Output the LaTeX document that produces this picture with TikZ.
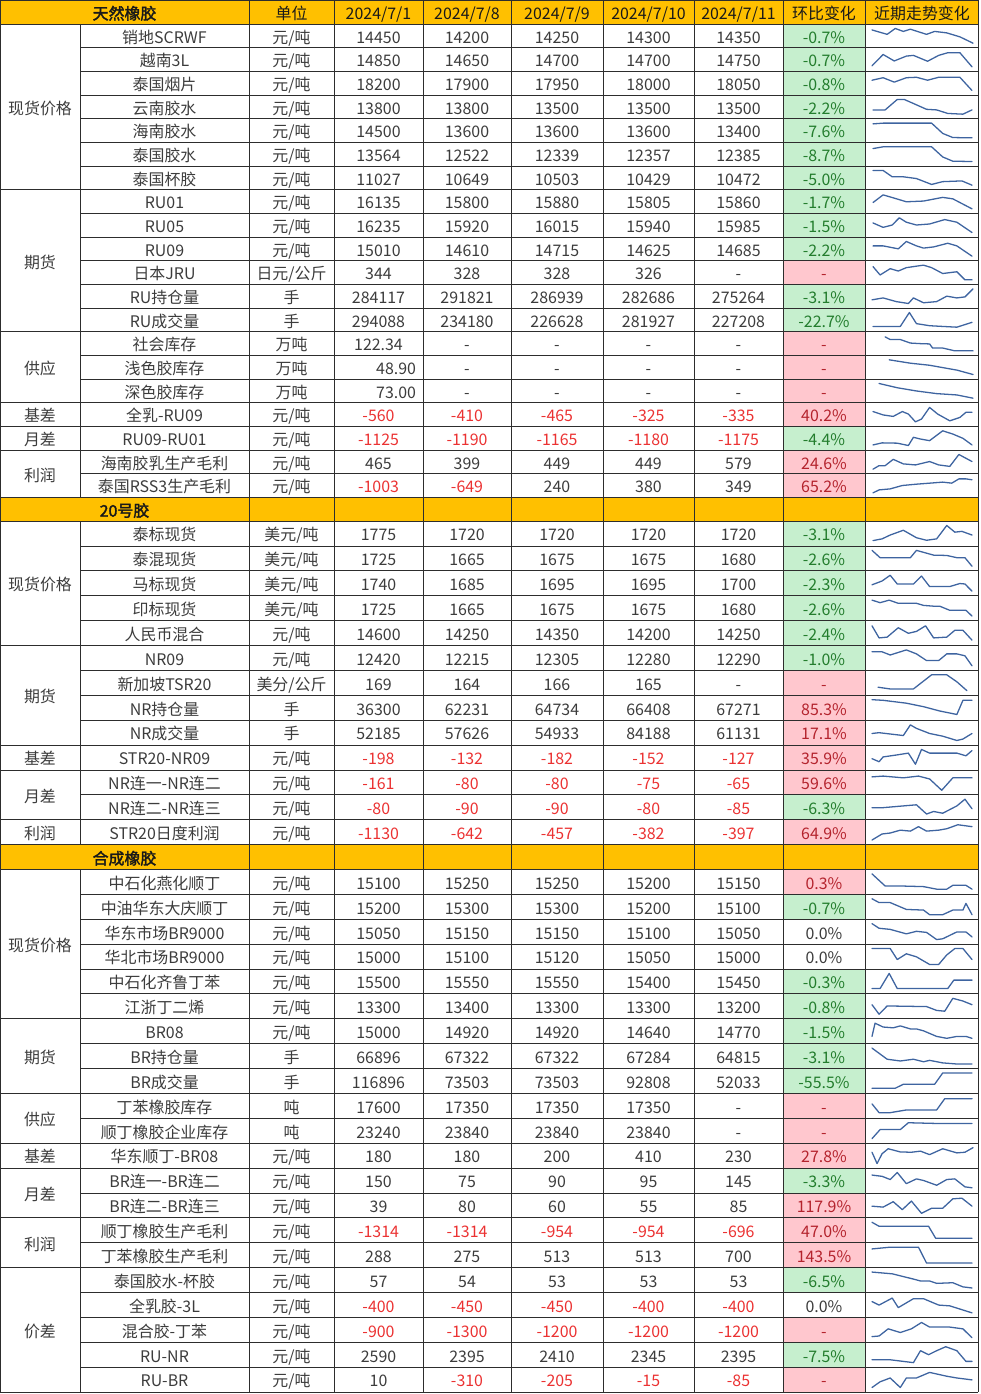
\documentclass[tikz,border=0pt]{standalone}
\usepackage{fontspec}
\setmainfont{Noto Sans CJK SC}[AutoFakeBold=2]
\usepackage{xcolor}
\usepackage{tikz}
\usetikzlibrary{positioning}
\definecolor{headbg}{RGB}{255,192,0}
\definecolor{pinkbg}{RGB}{255,199,206}
\definecolor{pinktx}{RGB}{180,35,45}
\definecolor{greenbg}{RGB}{198,239,206}
\definecolor{greentx}{RGB}{35,125,45}
\definecolor{negred}{RGB}{235,50,50}
\definecolor{celltx}{RGB}{60,60,60}
\definecolor{sparkblue}{RGB}{62,100,160}
\definecolor{gridline}{RGB}{45,45,45}

\newcommand\rv[1]{\textcolor{negred}{#1}}
\newcommand\rj[1]{\hspace*{30pt}#1}
% row geometry (pixels)
\newcommand\getrow[1]{%
  \ifnum#1<22
    \pgfmathsetmacro\yh{23.667}\pgfmathsetmacro\yt{24+(#1-1)*23.667}%
  \else
    \pgfmathsetmacro\yh{24.886}\pgfmathsetmacro\yt{521+(#1-22)*24.886}%
  \fi
  \pgfmathsetmacro\yb{\yt+\yh}\pgfmathsetmacro\yc{\yt+\yh/2}%
  \pgfmathsetmacro\sy{(\yh-9)*0.003}}
\newcommand\spark[2]{\getrow{#1}%
  \begin{scope}[shift={(872,\yb-4.5)}, x=0.0303cm, y=\sy cm]
    \draw[spark] plot coordinates {#2};
  \end{scope}}

\begin{document}
\begin{tikzpicture}[x=0.03cm, y=-0.03cm,
    every node/.style={font=\fontsize{13.6}{16}\selectfont, inner sep=0pt, text height=12.6pt, text depth=0pt},
    txtcell/.style={text=celltx},
    headtx/.style={text=black!90},
    chg/.style={minimum width=2.46cm},
    chgpos/.style={fill=pinkbg, text=pinktx},
    chgneg/.style={fill=greenbg, text=greentx},
    chgnil/.style={text=celltx},
    gridln/.style={draw=gridline, line width=0.6pt},
    spark/.style={draw=sparkblue, line width=1.1pt, line join=round, line cap=round}
]
\useasboundingbox (0,0) rectangle (981,1394);

% Header rows
\fill[headbg] (0,0) rectangle (978,24);
\foreach \rw in {21,35} {\getrow{\rw} \fill[headbg] (0,\yt) rectangle (978,\yb);}
\node[headtx] (sec1) at (124.5,12) {\textbf{天然橡胶}};
\node[headtx] (hunit) at (291.5,12) {单位};
\foreach \x/\d [count=\k] in {378.5/{2024/7/1}, 467/{2024/7/8}, 557/{2024/7/9}, 648.5/{2024/7/10}, 738.5/{2024/7/11}}
  \node[headtx] (hd\k) at (\x,12) {\d};
\node[headtx] (hchg) at (824,12) {环比变化};
\node[headtx] (htrend) at (922,12) {近期走势变化};
\getrow{21}
\node[headtx] (sec2) at (124.5,\yc) {\textbf{20号胶}};
\getrow{35}
\node[headtx] (sec3) at (124.5,\yc) {\textbf{合成橡胶}};

% Rows
\foreach \rw/\nm/\un/\va/\vb/\vc/\vd/\ve/\ch/\cs in {
  1/销地SCRWF/{元/吨}/14450/14200/14250/14300/14350/-0.7\%/chgneg,
  2/越南3L/{元/吨}/14850/14650/14700/14700/14750/-0.7\%/chgneg,
  3/泰国烟片/{元/吨}/18200/17900/17950/18000/18050/-0.8\%/chgneg,
  4/云南胶水/{元/吨}/13800/13800/13500/13500/13500/-2.2\%/chgneg,
  5/海南胶水/{元/吨}/14500/13600/13600/13600/13400/-7.6\%/chgneg,
  6/泰国胶水/{元/吨}/13564/12522/12339/12357/12385/-8.7\%/chgneg,
  7/泰国杯胶/{元/吨}/11027/10649/10503/10429/10472/-5.0\%/chgneg,
  8/RU01/{元/吨}/16135/15800/15880/15805/15860/-1.7\%/chgneg,
  9/RU05/{元/吨}/16235/15920/16015/15940/15985/-1.5\%/chgneg,
  10/RU09/{元/吨}/15010/14610/14715/14625/14685/-2.2\%/chgneg,
  11/日本JRU/{日元/公斤}/344/328/328/326/-/-/chgpos,
  12/RU持仓量/手/284117/291821/286939/282686/275264/-3.1\%/chgneg,
  13/RU成交量/手/294088/234180/226628/281927/227208/-22.7\%/chgneg,
  14/社会库存/万吨/122.34/-/-/-/-/-/chgpos,
  15/浅色胶库存/万吨/\rj{48.90}/-/-/-/-/-/chgpos,
  16/深色胶库存/万吨/\rj{73.00}/-/-/-/-/-/chgpos,
  17/全乳-RU09/{元/吨}/\rv{-560}/\rv{-410}/\rv{-465}/\rv{-325}/\rv{-335}/40.2\%/chgpos,
  18/RU09-RU01/{元/吨}/\rv{-1125}/\rv{-1190}/\rv{-1165}/\rv{-1180}/\rv{-1175}/-4.4\%/chgneg,
  19/海南胶乳生产毛利/{元/吨}/465/399/449/449/579/24.6\%/chgpos,
  20/泰国RSS3生产毛利/{元/吨}/\rv{-1003}/\rv{-649}/240/380/349/65.2\%/chgpos,
  22/泰标现货/{美元/吨}/1775/1720/1720/1720/1720/-3.1\%/chgneg,
  23/泰混现货/{美元/吨}/1725/1665/1675/1675/1680/-2.6\%/chgneg,
  24/马标现货/{美元/吨}/1740/1685/1695/1695/1700/-2.3\%/chgneg,
  25/印标现货/{美元/吨}/1725/1665/1675/1675/1680/-2.6\%/chgneg,
  26/人民币混合/{元/吨}/14600/14250/14350/14200/14250/-2.4\%/chgneg,
  27/NR09/{元/吨}/12420/12215/12305/12280/12290/-1.0\%/chgneg,
  28/新加坡TSR20/{美分/公斤}/169/164/166/165/-/-/chgpos,
  29/NR持仓量/手/36300/62231/64734/66408/67271/85.3\%/chgpos,
  30/NR成交量/手/52185/57626/54933/84188/61131/17.1\%/chgpos,
  31/STR20-NR09/{元/吨}/\rv{-198}/\rv{-132}/\rv{-182}/\rv{-152}/\rv{-127}/35.9\%/chgpos,
  32/NR连一-NR连二/{元/吨}/\rv{-161}/\rv{-80}/\rv{-80}/\rv{-75}/\rv{-65}/59.6\%/chgpos,
  33/NR连二-NR连三/{元/吨}/\rv{-80}/\rv{-90}/\rv{-90}/\rv{-80}/\rv{-85}/-6.3\%/chgneg,
  34/STR20日度利润/{元/吨}/\rv{-1130}/\rv{-642}/\rv{-457}/\rv{-382}/\rv{-397}/64.9\%/chgpos,
  36/中石化燕化顺丁/{元/吨}/15100/15250/15250/15200/15150/0.3\%/chgpos,
  37/中油华东大庆顺丁/{元/吨}/15200/15300/15300/15200/15100/-0.7\%/chgneg,
  38/华东市场BR9000/{元/吨}/15050/15150/15150/15100/15050/0.0\%/chgnil,
  39/华北市场BR9000/{元/吨}/15000/15100/15120/15050/15000/0.0\%/chgnil,
  40/中石化齐鲁丁苯/{元/吨}/15500/15550/15550/15400/15450/-0.3\%/chgneg,
  41/江浙丁二烯/{元/吨}/13300/13400/13300/13300/13200/-0.8\%/chgneg,
  42/BR08/{元/吨}/15000/14920/14920/14640/14770/-1.5\%/chgneg,
  43/BR持仓量/手/66896/67322/67322/67284/64815/-3.1\%/chgneg,
  44/BR成交量/手/116896/73503/73503/92808/52033/-55.5\%/chgneg,
  45/丁苯橡胶库存/吨/17600/17350/17350/17350/-/-/chgpos,
  46/顺丁橡胶企业库存/吨/23240/23840/23840/23840/-/-/chgpos,
  47/华东顺丁-BR08/{元/吨}/180/180/200/410/230/27.8\%/chgpos,
  48/BR连一-BR连二/{元/吨}/150/75/90/95/145/-3.3\%/chgneg,
  49/BR连二-BR连三/{元/吨}/39/80/60/55/85/117.9\%/chgpos,
  50/顺丁橡胶生产毛利/{元/吨}/\rv{-1314}/\rv{-1314}/\rv{-954}/\rv{-954}/\rv{-696}/47.0\%/chgpos,
  51/丁苯橡胶生产毛利/{元/吨}/288/275/513/513/700/143.5\%/chgpos,
  52/泰国胶水-杯胶/{元/吨}/57/54/53/53/53/-6.5\%/chgneg,
  53/全乳胶-3L/{元/吨}/\rv{-400}/\rv{-450}/\rv{-450}/\rv{-400}/\rv{-400}/0.0\%/chgnil,
  54/混合胶-丁苯/{元/吨}/\rv{-900}/\rv{-1300}/\rv{-1200}/\rv{-1200}/\rv{-1200}/-/chgpos,
  55/RU-NR/{元/吨}/2590/2395/2410/2345/2395/-7.5\%/chgneg,
  56/RU-BR/{元/吨}/10/\rv{-310}/\rv{-205}/\rv{-15}/\rv{-85}/-/chgpos}{
  \getrow{\rw}
  \node[txtcell] (n\rw) at (164.5,\yc) {\nm};
  \node[txtcell] (u\rw) at (291.5,\yc) {\un};
  \node[txtcell] (a\rw) at (378.5,\yc) {\va};
  \node[txtcell] (b\rw) at (467,\yc) {\vb};
  \node[txtcell] (c\rw) at (557,\yc) {\vc};
  \node[txtcell] (d\rw) at (648.5,\yc) {\vd};
  \node[txtcell] (e\rw) at (738.5,\yc) {\ve};
  \node[chg, \cs, minimum height=\yh*0.03cm] (p\rw) at (824,\yc) {\ch};
}

% Categories
\foreach \a/\b/\t [count=\k] in {1/7/现货价格, 8/13/期货, 14/16/供应, 17/17/基差, 18/18/月差, 19/20/利润,
    22/26/现货价格, 27/30/期货, 31/31/基差, 32/33/月差, 34/34/利润,
    36/41/现货价格, 42/44/期货, 45/46/供应, 47/47/基差, 48/49/月差, 50/51/利润, 52/56/价差}{
  \getrow{\b}\let\ybot\yb
  \getrow{\a}
  \draw[gridln] (0,\yt) rectangle (80,\ybot);
  \node[txtcell] (cat\k) at (40,{(\yt+\ybot)/2}) {\t};
}

% Grid
\draw[gridln] (0,0) -- (978,0);
\foreach \rw in {1,...,57} {\getrow{\rw} \draw[gridln] (80,\yt) -- (978,\yt);}
\foreach \x in {0,249,334,423,511,603,694,783,865,978} \draw[gridln] (\x,0) -- (\x,1392);

% Sparklines
\spark{1}{(0,9) (15,6) (23,10) (31,8) (38,9.5) (54,6) (62,8) (74,7) (87,4.3) (100,0)}
\spark{2}{(0,0.7) (11,8.4) (22,4) (34,7.3) (41,7.8) (55,3.8) (66,7.8) (75,9.6) (87,9.6) (99,0)}
\spark{3}{(0,7) (11,8.7) (22,5.7) (34,8.7) (44,9) (55,7) (66,9) (87,9) (99,0)}
\spark{4}{(1,2.9) (13,2.9) (25,10) (32,10) (54,3.3) (64,2.9) (75,0.5) (90,0) (99,2.9)}
\spark{5}{(1,9.5) (11,10) (59,10) (70,3) (80,0.2) (99,0)}
\spark{6}{(1,8.8) (11,10) (59,10) (70,3.1) (80,0.2) (99,0)}
\spark{7}{(1,10) (11,10) (20,5.7) (31,5.7) (44,4.5) (59,0.5) (70,2.4) (89,2.9) (99,0)}
\spark{8}{(1,4.3) (11,9.5) (21,7.5) (34,4.8) (51,5.3) (70,7.8) (80,6.8) (99,0)}
\spark{9}{(1,6.5) (11,3.5) (20,5.1) (27,10) (34,7) (44,5.1) (57,5.8) (72,8.8) (84,7) (99,0)}
\spark{10}{(1,7) (11,7) (26,5) (34,10) (44,7) (51,5.5) (61,6.3) (75,8.8) (84,7) (99,0)}
\spark{11}{(1,9) (8,3.3) (18,7.6) (26,6) (34,8.3) (51,10) (59,8.3) (70,4.3) (84,5.5) (92,0) (99,0)}
\spark{12}{(0,2.5) (11,3.8) (24,1.3) (36,0) (41,3.8) (51,0.5) (64,1.3) (74,5) (84,3.8) (92,4.5) (100,10)}
\spark{13}{(1,0.5) (28,0.5) (37,10) (44,2.4) (57,1) (70,0.5) (84,0) (99,3.3)}
\spark{14}{(13,9.5) (18,7.7) (28,7.7) (38,5.3) (48,4.9) (57,4.7) (60,1.9) (70,1.9) (82,0) (100,0)}
\spark{15}{(17,10) (38,7.7) (57,6.3) (70,4.7) (84,3) (100,0)}
\spark{16}{(7,10) (25,7.1) (44,4.9) (64,3.1) (84,2.2) (100,0)}
\spark{17}{(1,7) (11,4.7) (21,3.7) (30,7) (36,5.3) (43,0) (49,1.9) (57,9.8) (65,5.3) (77,0.7) (87,3) (93,6.5) (99,6.5)}
\spark{18}{(1,0.4) (10,1.8) (25,1.6) (36,0) (41,5.6) (48,4.4) (57,3.3) (70,10) (80,7.8) (90,4.9) (99,0.4)}
\spark{19}{(1,0) (7,2.4) (13,2.4) (21,6.7) (31,3.6) (43,2.9) (57,5.2) (66,2.9) (77,1.9) (86,10) (99,5.2)}
\spark{20}{(1,0) (7,2) (18,2.7) (30,5) (44,5.9) (61,6.8) (70,7.3) (79,6.6) (86,9.5) (93,9.5) (99,8.9)}
\spark{22}{(1,0.5) (10,1.6) (18,4) (31,7) (44,2.3) (54,0.7) (64,1.6) (74,10) (82,5.8) (89,6.3) (99,4)}
\spark{23}{(0,10) (8,5.4) (38,5.4) (44,10) (61,7) (74,6.8) (84,5.4) (92,5.4) (99,0)}
\spark{24}{(0,4) (10,6.4) (18,10) (25,4.5) (41,4.5) (49,9.5) (57,2.9) (77,2.9) (87,4.8) (92,4.5) (99,0)}
\spark{25}{(0,10) (8,8.4) (17,10) (26,8) (44,8) (51,6.7) (61,6.2) (67,6.2) (77,3.6) (93,3.6) (99,0)}
\spark{26}{(0,9.5) (7,1.9) (15,2.4) (26,8.3) (36,4.8) (44,6) (53,9.5) (61,1.9) (74,2.4) (82,6.7) (90,6.7) (99,0.5)}
\spark{27}{(0,8.8) (10,8.8) (18,6.8) (34,10) (44,7.5) (54,3.3) (66,3.3) (74,7.5) (84,7.5) (92,6.3) (99,0)}
\spark{28}{(6,2.2) (18,1.1) (41,1.1) (59,10) (74,10) (84,5.6) (94,0)}
\spark{29}{(0,10) (11,9.6) (34,7.8) (51,5.6) (67,2.9) (84,0.7) (90,9.6) (99,9.6)}
\spark{30}{(0,4.4) (7,4.9) (31,3.1) (38,9.8) (44,7.6) (57,4.4) (70,2.7) (84,0) (90,0.9) (99,4.4)}
\spark{31}{(0,4.2) (7,2.3) (11,5.3) (24,6.5) (36,7.7) (43,0.7) (49,10) (57,7.7) (84,7.7) (93,6) (99,9.3)}
\spark{32}{(0,8.4) (11,8.9) (31,7.8) (46,8.9) (57,7.1) (69,0) (80,7.8) (99,7.8)}
\spark{33}{(0,4.7) (11,4.7) (31,5.8) (44,6.5) (54,0.7) (61,2.3) (70,1.2) (84,5.8) (92,10) (99,4)}
\spark{34}{(0,0) (10,3.8) (18,4.4) (28,6.2) (38,5.6) (46,8.4) (54,5.6) (66,6.2) (74,7.1) (85,9.6) (99,8.4)}
\spark{36}{(0,10) (13,2.4) (28,2.4) (51,2) (64,0.4) (74,0.4) (80,2.8) (93,2.8) (99,0.4)}
\spark{37}{(0,10) (7,7.6) (18,7.6) (34,3.3) (51,2.9) (57,0) (70,0) (80,2.9) (90,2.9) (93,7.1) (99,0)}
\spark{38}{(0,10) (7,7.1) (18,6.4) (34,3.6) (44,5.2) (54,4.5) (64,0) (70,0.5) (84,4.8) (93,4.8) (99,1.7)}
\spark{39}{(0,10) (18,10) (25,3.1) (34,6.7) (44,4.8) (57,0) (66,0) (74,6) (82,10) (90,10) (99,3.1)}
\spark{40}{(0,0.5) (8,0.5) (17,10) (25,0.5) (75,0.5) (81,5.8) (99,5.8)}
\spark{41}{(0,6) (7,0) (15,5.2) (54,4.8) (64,2.4) (72,1.9) (80,10) (90,8.3) (99,6)}
\spark{42}{(0,1.7) (3,10) (11,7.6) (21,7.1) (28,8.3) (38,6.4) (44,6.4) (51,5.2) (64,1.7) (74,0.5) (84,1.7) (93,1.7) (99,0.5)}
\spark{43}{(0,10) (15,3) (28,1.9) (41,3) (51,1.4) (57,2.3) (70,0.7) (84,0) (99,0)}
\spark{44}{(0,0.4) (23,0.4) (31,2.9) (62,2.9) (70,10) (99,10)}
\spark{45}{(0,6.2) (7,0.7) (18,0.7) (34,2.4) (64,2.4) (72,9.5) (99,9.5)}
\spark{46}{(0,0) (8,5.7) (28,5.7) (36,10) (67,9.5) (99,9.5)}
\spark{47}{(0,7.1) (5,0) (10,6.2) (16,9.3) (28,7.3) (39,7.1) (48,7.8) (57,5.6) (70,9.3) (84,6.7) (92,7.1) (100,10)}
\spark{48}{(0,8.4) (10,7.6) (18,5.6) (25,10) (34,3) (44,6) (51,5) (64,2) (74,5.6) (82,6) (92,1) (99,0.4)}
\spark{49}{(0,4.5) (11,3.9) (21,7.3) (30,2.3) (39,7.7) (49,0) (59,3.2) (70,3.2) (80,9.1) (89,9.5) (99,4.5)}
\spark{50}{(0,10) (7,7.5) (56,7.5) (63,0) (99,0)}
\spark{51}{(0,8.9) (18,10) (46,10) (54,0) (99,0)}
\spark{52}{(0,10) (20,8.9) (41,5.6) (48,4.4) (57,4.4) (64,2.9) (80,3.3) (90,0.7) (99,0)}
\spark{53}{(0,7.1) (7,4.9) (20,9.3) (26,3.3) (41,8.9) (51,8.9) (66,4.9) (77,4.4) (99,0)}
\spark{54}{(0,0.7) (7,1.1) (16,5.6) (28,3.3) (39,5.6) (49,9.6) (57,6.7) (77,6.7) (90,5.6) (99,0)}
\spark{55}{(0,1.8) (18,1.8) (41,0) (48,7.5) (56,5) (64,7.5) (73,10) (84,7.5) (93,0.8) (99,0.8)}
\spark{56}{(0,0) (8,3.6) (18,6) (28,0) (34,6) (44,6) (57,9.5) (74,7.1) (84,6) (99,4.8)}

\end{tikzpicture}
\end{document}
